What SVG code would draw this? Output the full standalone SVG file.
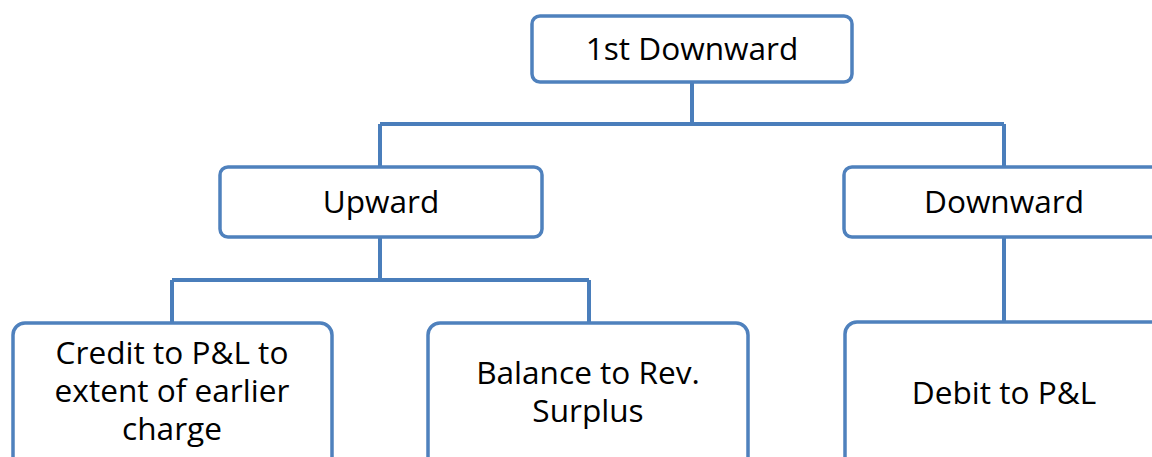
<svg xmlns="http://www.w3.org/2000/svg" width="1152" height="457" viewBox="0 0 1152 457">
  <style>
    .box { fill: #ffffff; stroke: #4f81bd; stroke-width: 3.5; }
    .link { fill: none; stroke: #4a7ebb; stroke-width: 4; }
    .label { font-family: "Open Sans", "Noto Sans", sans-serif; font-size: 31.6px; fill: #000000; text-anchor: middle; }
  </style>
  <rect width="1152" height="457" fill="#ffffff"/>

  <!-- tree connectors -->
  <g id="connectors">
    <path class="link" d="M692 82 V124 M380 124 H1004 M380 124 V167 M1004 124 V167"/>
    <path class="link" d="M380 237 V280 M172 280 H589 M172 280 V323 M589 280 V323"/>
    <path class="link" d="M1004 237 V322"/>
  </g>

  <g id="node-first-downward">
    <rect class="box" x="532" y="16" width="320" height="66" rx="8"/>
    <text class="label" x="692" y="60">1st Downward</text>
  </g>

  <g id="node-upward">
    <rect class="box" x="220" y="167" width="322" height="70" rx="8"/>
    <text class="label" x="381" y="213">Upward</text>
  </g>

  <g id="node-downward">
    <rect class="box" x="844" y="167" width="322" height="70" rx="8"/>
    <text class="label" x="1004" y="213">Downward</text>
  </g>

  <g id="node-credit">
    <rect class="box" x="13" y="323" width="319" height="160" rx="12"/>
    <text class="label" x="172" y="364">Credit to P&amp;L to<tspan x="172" dy="38">extent of earlier</tspan><tspan x="172" dy="38">charge</tspan></text>
  </g>

  <g id="node-balance">
    <rect class="box" x="428" y="323" width="320" height="160" rx="12"/>
    <text class="label" x="588" y="384">Balance to Rev.<tspan x="588" dy="38">Surplus</tspan></text>
  </g>

  <g id="node-debit">
    <rect class="box" x="845" y="322" width="320" height="160" rx="12"/>
    <text class="label" x="1004" y="404">Debit to P&amp;L</text>
  </g>
</svg>
